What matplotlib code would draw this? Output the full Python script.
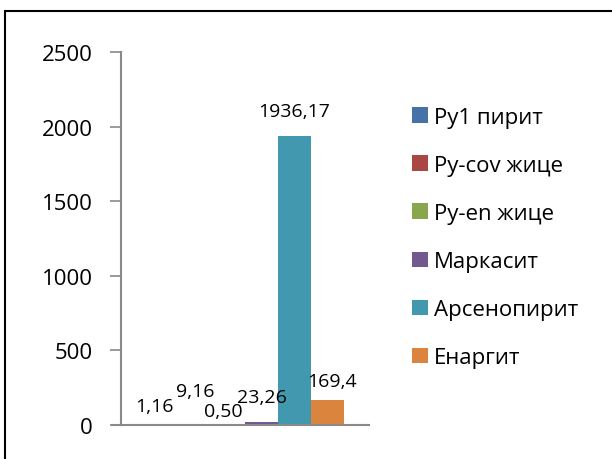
import numpy as np
import matplotlib.pyplot as plt
from matplotlib.patches import Rectangle

plt.rcParams['font.family'] = ['Open Sans', 'DejaVu Sans']

minerals = ['Ру1 пирит', 'Py-cov жице', 'Py-en жице', 'Маркасит', 'Арсенопирит', 'Енаргит']
values = [1.16, 9.16, 0.50, 23.26, 1936.17, 169.4]
value_labels = ['1,16', '9,16', '0,50', '23,26', '1936,17', '169,4']
colors = ['#4572A7', '#AA4643', '#89A54E', '#71588F', '#4198AF', '#DB843D']

# label nudges in pixels (dx, dy) so the small values don't overlap
label_offsets = [(-8, 19), (0, 33), (-5, 14), (0, 25), (0, 25), (5, 19)]

fig = plt.figure(figsize=(6.12, 4.6), dpi=100)
ax = fig.add_axes([121/612, 1-426/460, 248/612, 373/460])

n = len(values)
xpos = np.arange(n) - (n - 1) / 2
bars = ax.bar(xpos, values, width=1.0, color=colors, label=minerals)

for b, txt, (dx, dy) in zip(bars, value_labels, label_offsets):
    ax.annotate(txt, (b.get_x() + b.get_width()/2, b.get_height()),
                xytext=(dx, dy), textcoords='offset pixels',
                ha='center', va='center', fontsize=14)

ax.set_xlim(-3.76, 3.76)
ax.set_ylim(0, 2500)
ax.set_yticks(np.arange(0, 2501, 500))
ax.set_xticks([])
ax.tick_params(axis='y', direction='out', length=8, width=1.2, color='#898989',
               labelsize=16, pad=12.5)
for s in ['top', 'right']:
    ax.spines[s].set_visible(False)
for s in ['left', 'bottom']:
    ax.spines[s].set_color('#898989')
    ax.spines[s].set_linewidth(1.5)
# x axis line runs under the left tick
ax.plot([-0.035, 0], [0, 0], transform=ax.transAxes, color='#898989', lw=1.5, clip_on=False)

fig.legend(handles=bars, labels=minerals, loc='center left',
           bbox_to_anchor=(392/612, 1-238.5/460), frameon=False, fontsize=16,
           handlelength=0.7, handleheight=0.7, handletextpad=0.3,
           labelspacing=1.22)

fig.patches.append(Rectangle((5/612, -0.2), 1.2, 1.2 - 12/460, transform=fig.transFigure,
                             fill=False, edgecolor='black', lw=1.5))

fig.savefig('out.png', dpi=100)
